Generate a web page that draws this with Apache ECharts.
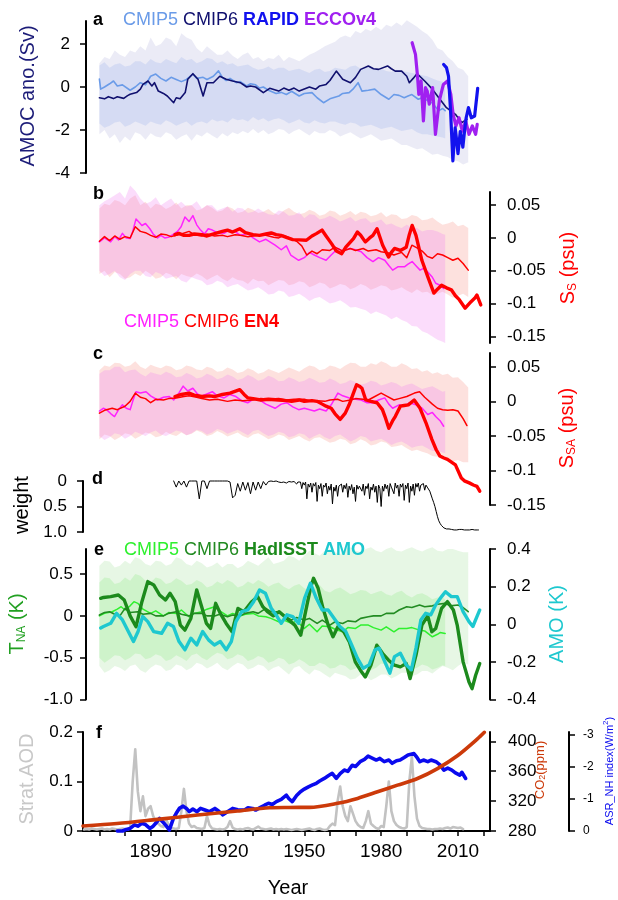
<!DOCTYPE html>
<html>
<head>
<meta charset="utf-8">
<script src="https://cdn.jsdelivr.net/npm/echarts@6/dist/echarts.min.js"></script>
<style>
  html, body { margin: 0; padding: 0; background: #fff; }
  #main { width: 618px; height: 900px; }
</style>
</head>
<body>
<div id="main"></div>
<script>
var FONT = '"Liberation Sans", Arial, Helvetica, sans-serif';

// ---------- panel a : AMOC anomaly (Sv) ----------
// bands: [year, low, high]
var bandAmocCmip6 = [[1870,-2.2,1.1],[1872,-2.0,1.4],[1874,-2.4,1.3],[1876,-2.2,1.7],[1878,-2.6,1.5],[1880,-2.3,1.4],[1882,-2.5,1.7],[1884,-2.1,1.6],[1886,-2.2,1.9],[1888,-2.45,1.7],[1890,-2.15,2.3],[1892,-2.3,1.9],[1894,-2.35,2.0],[1896,-2.1,2.3],[1898,-2.2,2.2],[1900,-2.45,1.9],[1902,-2.3,2.5],[1904,-2.2,2.3],[1906,-2.5,2.2],[1908,-2.2,1.8],[1910,-2.3,1.6],[1912,-2.1,1.9],[1914,-2.25,1.7],[1916,-2.4,1.5],[1918,-2.15,1.5],[1920,-2.3,1.7],[1922,-2.1,1.45],[1924,-2.2,1.3],[1926,-2.05,1.5],[1928,-2.15,1.6],[1930,-1.95,1.3],[1932,-2.15,1.4],[1934,-2.0,1.2],[1936,-2.2,1.35],[1938,-2.1,1.3],[1940,-1.95,1.5],[1942,-2.0,1.2],[1944,-2.2,1.4],[1946,-2.05,1.3],[1948,-1.95,1.2],[1950,-2.1,1.35],[1952,-2.25,1.5],[1954,-2.05,1.6],[1956,-2.15,1.75],[1958,-2.15,1.9],[1960,-2.0,2.0],[1962,-2.1,2.1],[1964,-2.3,2.3],[1966,-2.2,2.4],[1968,-2.1,2.3],[1970,-2.25,2.6],[1972,-2.4,2.5],[1974,-2.3,2.7],[1976,-2.2,2.6],[1978,-2.35,2.8],[1980,-2.5,2.65],[1982,-2.45,2.9],[1984,-2.4,2.8],[1986,-2.55,3.0],[1988,-2.7,2.85],[1990,-2.7,3.1],[1992,-2.8,2.95],[1994,-2.9,2.8],[1996,-2.85,2.6],[1998,-3.0,2.45],[2000,-3.15,2.2],[2002,-3.1,1.8],[2004,-3.2,1.7],[2006,-3.25,1.4],[2008,-3.4,1.2],[2010,-3.45,0.9],[2012,-3.6,0.8],[2014,-3.5,0.5]];
var bandAmocCmip5 = [[1870,-1.7,1.0],[1872,-1.9,1.15],[1874,-1.8,0.9],[1876,-1.65,1.05],[1878,-1.6,1.1],[1880,-1.85,0.95],[1882,-1.75,1.0],[1884,-1.6,1.2],[1886,-1.7,1.2],[1888,-1.8,1.05],[1890,-1.6,1.3],[1892,-1.7,1.15],[1894,-1.75,1.1],[1896,-1.55,1.3],[1898,-1.65,1.2],[1900,-1.8,1.1],[1902,-1.7,1.4],[1904,-1.6,1.25],[1906,-1.8,1.3],[1908,-1.65,1.1],[1910,-1.6,1.2],[1912,-1.7,1.35],[1914,-1.5,1.3],[1916,-1.6,1.1],[1918,-1.55,1.2],[1920,-1.65,1.05],[1922,-1.45,1.1],[1924,-1.55,0.95],[1926,-1.5,1.0],[1928,-1.6,1.05],[1930,-1.4,0.9],[1932,-1.55,0.8],[1934,-1.45,0.85],[1936,-1.6,0.95],[1938,-1.5,0.8],[1940,-1.45,0.9],[1942,-1.55,0.9],[1944,-1.7,0.75],[1946,-1.6,0.8],[1948,-1.5,0.85],[1950,-1.65,0.75],[1952,-1.7,0.65],[1954,-1.55,0.8],[1956,-1.65,0.85],[1958,-1.7,0.7],[1960,-1.6,0.75],[1962,-1.6,0.9],[1964,-1.7,0.85],[1966,-1.75,0.8],[1968,-1.65,0.95],[1970,-1.7,1.0],[1972,-1.85,0.85],[1974,-1.8,0.9],[1976,-1.75,0.95],[1978,-1.85,0.8],[1980,-1.95,0.85],[1982,-1.9,0.75],[1984,-1.85,0.7],[1986,-1.95,0.8],[1988,-2.05,0.75],[1990,-2.0,0.7],[1992,-1.95,0.65],[1994,-2.1,0.6],[1996,-2.2,0.55],[1998,-2.2,0.5],[2000,-2.25,0.4],[2002,-2.3,0.3],[2004,-2.35,0.25],[2005,-2.4,0.2]];
var amocCmip5 = [[1870,0.37],[1870.5,-0.1],[1872,0.0],[1874,0.15],[1875.5,0.28],[1877,0.05],[1879,0.1],[1882,-0.15],[1884,0.0],[1886,0.2],[1888,0.1],[1890,0.5],[1892,0.6],[1894,0.4],[1896,0.28],[1898,0.45],[1900,0.35],[1902,0.25],[1904,0.35],[1906.5,0.6],[1908,0.4],[1910.5,0.45],[1912,0.35],[1914.5,0.5],[1916.5,0.75],[1918,0.45],[1919.5,0.3],[1921,0.4],[1923.5,0.2],[1925,0.25],[1927.5,0.05],[1929,0.15],[1931,0.1],[1932.5,-0.05],[1934,0.0],[1936,-0.15],[1939,-0.3],[1941,-0.25],[1943,-0.35],[1945,-0.2],[1948,-0.42],[1950,-0.3],[1953,-0.26],[1955,-0.5],[1957.5,-0.73],[1960,-0.55],[1963.5,-0.42],[1965,-0.3],[1967.5,-0.26],[1969,-0.1],[1971,0.2],[1972.5,-0.19],[1975,-0.15],[1977.5,-0.1],[1980,-0.35],[1983,-0.57],[1985,-0.35],[1987,-0.39],[1989,-0.5],[1990.5,-0.42],[1992,-0.35],[1994.5,-0.57],[1996,-0.5],[1998.5,-0.65],[2000,-0.75],[2002.5,-1.1],[2004,-1.0],[2005,-1.1]];
var amocCmip6 = [[1870,-0.5],[1872,-0.55],[1873.5,-0.45],[1875.5,-0.54],[1877,-0.45],[1879.5,-0.53],[1881,-0.4],[1882,-0.34],[1884.5,-0.26],[1886,-0.1],[1887,0.12],[1889,0.28],[1890.5,0.05],[1891.5,0.2],[1893,-0.19],[1895,-0.3],[1896.5,-0.42],[1899,-0.73],[1900,-0.5],[1901.5,-0.55],[1903.5,-0.26],[1904.5,0.36],[1906.5,0.62],[1908.5,0.36],[1910.5,-0.42],[1912,0.2],[1914.5,0.2],[1917,0.5],[1919.5,0.36],[1922,0.28],[1925,0.2],[1927.5,0.0],[1929,0.05],[1931,0.0],[1934,-0.26],[1936.5,-0.06],[1940,-0.19],[1942,-0.05],[1944,-0.15],[1946,-0.05],[1948,-0.19],[1952,0.0],[1954.5,-0.1],[1956,0.05],[1958.5,0.12],[1960,0.3],[1962.5,0.74],[1965,0.36],[1968,0.2],[1970,0.45],[1972,0.82],[1975,0.98],[1977,0.85],[1979,0.82],[1982.5,0.98],[1984,0.85],[1985.5,0.74],[1988,0.74],[1990,0.5],[1991,0.2],[1992.5,0.4],[1994,0.62],[1997,0.28],[2000,-0.1],[2002.5,-0.5],[2005.5,-0.96],[2009,-1.27],[2011.5,-1.66],[2013.5,-1.5]];
var amocRapid = [[2004.4,1.05],[2005.5,0.9],[2006.3,0.5],[2007.1,-1.1],[2008,-3.44],[2008.9,-1.9],[2009.5,-2.5],[2010,-3.1],[2010.9,-2.07],[2011.9,-2.8],[2012.6,-2.0],[2013.2,-1.43],[2014.1,-0.96],[2015.2,-1.43],[2016.5,-1.35],[2017.7,-0.06]];
var amocEcco = [[1992.1,2.06],[1993.4,1.52],[1994.2,0.5],[1994.7,-0.34],[1995.6,0.28],[1996.5,-1.58],[1997.3,-0.03],[1998,-0.2],[1998.8,-0.8],[2000.1,-0.03],[2001.2,-2.2],[2002.7,-0.65],[2004.3,0.12],[2005.9,0.28],[2007.2,-0.34],[2008.1,-1.27],[2009.2,-1.81],[2010.4,-1.43],[2011.7,-2.05],[2013,-1.58],[2014.3,-2.2],[2015.6,-1.81],[2016.9,-2.2],[2017.5,-1.74]];

// ---------- panel b : S_S (psu) ----------
var bandSsCmip6 = [[1870,-0.055,0.045],[1872,-0.05,0.052],[1874,-0.06,0.05],[1876,-0.052,0.058],[1878,-0.055,0.055],[1880,-0.062,0.05],[1882,-0.06,0.06],[1884,-0.054,0.065],[1886,-0.058,0.05],[1888,-0.05,0.055],[1890,-0.055,0.045],[1892,-0.062,0.052],[1894,-0.06,0.05],[1896,-0.053,0.044],[1898,-0.056,0.048],[1900,-0.063,0.054],[1902,-0.055,0.045],[1904,-0.058,0.05],[1906,-0.06,0.05],[1908,-0.054,0.042],[1910,-0.058,0.044],[1912,-0.064,0.05],[1914,-0.06,0.046],[1916,-0.056,0.04],[1918,-0.062,0.042],[1920,-0.066,0.048],[1922,-0.06,0.045],[1924,-0.064,0.038],[1926,-0.065,0.04],[1928,-0.07,0.046],[1930,-0.062,0.043],[1932,-0.066,0.038],[1934,-0.065,0.04],[1936,-0.072,0.044],[1938,-0.068,0.038],[1940,-0.064,0.035],[1942,-0.065,0.042],[1944,-0.072,0.046],[1946,-0.07,0.04],[1948,-0.066,0.036],[1950,-0.068,0.038],[1952,-0.075,0.043],[1954,-0.072,0.04],[1956,-0.068,0.034],[1958,-0.07,0.036],[1960,-0.077,0.042],[1962,-0.074,0.04],[1964,-0.07,0.034],[1966,-0.072,0.037],[1968,-0.078,0.041],[1970,-0.075,0.035],[1972,-0.07,0.04],[1974,-0.073,0.038],[1976,-0.079,0.033],[1978,-0.076,0.035],[1980,-0.072,0.039],[1982,-0.074,0.032],[1984,-0.08,0.036],[1986,-0.078,0.035],[1988,-0.075,0.029],[1990,-0.08,0.03],[1992,-0.084,0.035],[1994,-0.078,0.033],[1996,-0.083,0.027],[1998,-0.082,0.028],[2000,-0.087,0.031],[2002,-0.085,0.025],[2004,-0.082,0.02],[2006,-0.086,0.022],[2008,-0.091,0.025],[2010,-0.088,0.018],[2012,-0.085,0.02],[2014,-0.09,0.015]];
var bandSsCmip5 = [[1870,-0.05,0.05],[1872,-0.058,0.056],[1874,-0.055,0.06],[1876,-0.05,0.065],[1878,-0.06,0.07],[1880,-0.064,0.06],[1882,-0.055,0.08],[1884,-0.05,0.072],[1886,-0.05,0.06],[1888,-0.058,0.052],[1890,-0.06,0.055],[1892,-0.052,0.062],[1894,-0.055,0.05],[1896,-0.062,0.055],[1898,-0.06,0.06],[1900,-0.058,0.05],[1902,-0.065,0.055],[1904,-0.068,0.048],[1906,-0.06,0.05],[1908,-0.063,0.056],[1910,-0.065,0.045],[1912,-0.072,0.05],[1914,-0.07,0.05],[1916,-0.065,0.042],[1918,-0.068,0.045],[1920,-0.075,0.048],[1922,-0.072,0.04],[1924,-0.07,0.046],[1926,-0.075,0.045],[1928,-0.08,0.038],[1930,-0.078,0.04],[1932,-0.075,0.045],[1934,-0.08,0.04],[1936,-0.086,0.036],[1938,-0.085,0.035],[1940,-0.08,0.042],[1942,-0.082,0.04],[1944,-0.09,0.034],[1946,-0.088,0.035],[1948,-0.085,0.039],[1950,-0.09,0.03],[1952,-0.096,0.036],[1954,-0.092,0.035],[1956,-0.09,0.028],[1958,-0.095,0.03],[1960,-0.1,0.034],[1962,-0.098,0.03],[1964,-0.095,0.025],[1966,-0.1,0.028],[1968,-0.106,0.032],[1970,-0.105,0.025],[1972,-0.108,0.029],[1974,-0.11,0.03],[1976,-0.116,0.023],[1978,-0.112,0.025],[1980,-0.115,0.028],[1982,-0.118,0.02],[1984,-0.124,0.022],[1986,-0.12,0.018],[1988,-0.125,0.015],[1990,-0.128,0.02],[1992,-0.134,0.016],[1994,-0.135,0.015],[1996,-0.142,0.01],[1998,-0.145,0.012],[2000,-0.15,0.012],[2002,-0.155,0.01],[2004,-0.158,0.006],[2005,-0.16,0.005]];
var ssCmip5 = [[1870,-0.006],[1872,0.0],[1874.4,-0.006],[1876,0.002],[1877.5,-0.003],[1879,0.007],[1880.5,0.0],[1882,-0.001],[1883,0.01],[1884.3,0.029],[1885.5,0.024],[1886.6,0.019],[1888,0.022],[1889.7,0.014],[1891,0.006],[1892.7,0.0],[1894,0.004],[1895.5,0.0],[1897.3,0.0015],[1899,0.006],[1900.5,0.01],[1901.9,0.017],[1903.4,0.032],[1905,0.025],[1906.5,0.034],[1908,0.02],[1909.5,0.012],[1911,0.006],[1912.5,0.014],[1914.1,0.012],[1916,0.008],[1918.7,0.007],[1920.5,0.012],[1923.3,0.009],[1925,0.004],[1927.9,0.007],[1930,0.0],[1932.5,-0.006],[1935,-0.002],[1938.6,-0.011],[1941,-0.018],[1943,-0.012],[1944.7,-0.026],[1947.8,-0.034],[1950,-0.03],[1952,-0.022],[1953.9,-0.026],[1956,-0.03],[1958.5,-0.034],[1960.5,-0.026],[1963.1,-0.016],[1965,-0.02],[1967.6,-0.016],[1970,-0.018],[1972.2,-0.021],[1974.5,-0.03],[1976.8,-0.036],[1979,-0.03],[1981.4,-0.034],[1983,-0.042],[1984.5,-0.049],[1986.5,-0.044],[1989.1,-0.044],[1990.5,-0.04],[1992.1,-0.036],[1993.5,-0.042],[1995.2,-0.049],[1996.7,-0.046],[1998.2,-0.052],[2000,-0.06],[2001.3,-0.069],[2003,-0.072],[2004.4,-0.077]];
var ssCmip6 = [[1870,-0.005],[1872,0.002],[1874,-0.004],[1876,0.003],[1878,-0.002],[1880,0.002],[1882,0.0],[1884,0.017],[1886,0.01],[1888,0.008],[1890,0.004],[1892,0.001],[1894,0.006],[1896,0.005],[1898,0.002],[1900,0.004],[1902,0.006],[1905,0.01],[1907,0.005],[1910,0.003],[1912,0.006],[1915,0.003],[1918,0.004],[1920,0.002],[1923,0.005],[1925,0.004],[1928,0.002],[1930,0.003],[1933,0.005],[1935,0.004],[1938,0.001],[1940,0.0],[1942,0.004],[1945,-0.001],[1947,-0.005],[1949,-0.012],[1951,-0.026],[1953,-0.02],[1955,-0.024],[1957,-0.018],[1960,-0.019],[1962,-0.014],[1965,-0.02],[1968,-0.016],[1970,-0.019],[1973,-0.016],[1975,-0.02],[1978,-0.018],[1980,-0.021],[1983,-0.023],[1985,-0.026],[1988,-0.022],[1990,-0.03],[1992,-0.011],[1994,-0.015],[1996,-0.02],[1998,-0.028],[2000,-0.031],[2002,-0.024],[2004,-0.026],[2006,-0.03],[2008,-0.034],[2010,-0.031],[2012,-0.039],[2014,-0.049]];
var ssEn4 = [[1899.5,0.005],[1901,0.007],[1903,0.004],[1905,0.004],[1907,0.006],[1910,0.005],[1912,0.003],[1915,0.0066],[1918,0.01],[1920,0.012],[1922,0.009],[1924.8,0.014],[1927,0.008],[1930,0.005],[1932.5,0.004],[1935,0.006],[1937.1,0.0076],[1939,0.005],[1940.9,0.004],[1943,0.001],[1945.5,-0.0025],[1948,-0.003],[1950.8,-0.0035],[1953,0.003],[1954.7,0.0066],[1956.9,0.012],[1958.5,0.003],[1960.7,-0.009],[1962.5,-0.02],[1964.6,-0.024],[1966.2,-0.014],[1969.2,-0.001],[1970.7,0.009],[1972,0.004],[1973.8,-0.006],[1975.5,0.0],[1976.8,0.004],[1978.4,0.014],[1980.6,-0.011],[1982.9,-0.029],[1984,-0.022],[1985.2,-0.016],[1987.5,-0.019],[1989.8,-0.014],[1991,0.005],[1992.1,0.019],[1993.6,0.004],[1995.9,-0.034],[1998.2,-0.059],[2000.6,-0.084],[2002,-0.078],[2003.6,-0.072],[2005.5,-0.076],[2007.4,-0.079],[2009,-0.088],[2010.5,-0.094],[2012.8,-0.107],[2015.1,-0.097],[2016.5,-0.092],[2017.4,-0.087],[2018.9,-0.102]];

// ---------- panel c : S_SA (psu) ----------
var bandSsaCmip6 = [[1870,-0.055,0.045],[1872,-0.048,0.052],[1874,-0.05,0.05],[1876,-0.056,0.056],[1878,-0.052,0.055],[1880,-0.046,0.05],[1882,-0.048,0.052],[1884,-0.054,0.058],[1886,-0.05,0.05],[1888,-0.045,0.047],[1890,-0.047,0.053],[1892,-0.052,0.05],[1894,-0.05,0.048],[1896,-0.044,0.052],[1898,-0.048,0.05],[1900,-0.05,0.045],[1902,-0.045,0.047],[1904,-0.049,0.052],[1906,-0.047,0.05],[1908,-0.042,0.046],[1910,-0.045,0.045],[1912,-0.05,0.05],[1914,-0.048,0.048],[1916,-0.043,0.043],[1918,-0.046,0.044],[1920,-0.051,0.049],[1922,-0.048,0.046],[1924,-0.045,0.041],[1926,-0.05,0.043],[1928,-0.053,0.048],[1930,-0.048,0.045],[1932,-0.046,0.04],[1934,-0.05,0.042],[1936,-0.055,0.047],[1938,-0.052,0.044],[1940,-0.048,0.041],[1942,-0.05,0.045],[1944,-0.056,0.049],[1946,-0.053,0.046],[1948,-0.05,0.043],[1950,-0.055,0.048],[1952,-0.058,0.052],[1954,-0.053,0.05],[1956,-0.052,0.045],[1958,-0.056,0.047],[1960,-0.06,0.052],[1962,-0.058,0.05],[1964,-0.054,0.047],[1966,-0.056,0.052],[1968,-0.062,0.056],[1970,-0.06,0.055],[1972,-0.055,0.05],[1974,-0.058,0.05],[1976,-0.064,0.055],[1978,-0.062,0.053],[1980,-0.058,0.058],[1982,-0.06,0.055],[1984,-0.066,0.05],[1986,-0.065,0.05],[1988,-0.063,0.055],[1990,-0.068,0.052],[1992,-0.072,0.047],[1994,-0.07,0.048],[1996,-0.073,0.043],[1998,-0.075,0.045],[2000,-0.079,0.04],[2002,-0.08,0.042],[2004,-0.082,0.038],[2006,-0.083,0.04],[2008,-0.087,0.034],[2010,-0.085,0.035],[2012,-0.088,0.028],[2014,-0.088,0.02]];
var bandSsaCmip5 = [[1870,-0.05,0.04],[1872,-0.056,0.045],[1874,-0.052,0.045],[1876,-0.046,0.05],[1878,-0.048,0.05],[1880,-0.054,0.042],[1882,-0.05,0.045],[1884,-0.044,0.046],[1886,-0.047,0.04],[1888,-0.05,0.036],[1890,-0.045,0.042],[1892,-0.042,0.04],[1894,-0.048,0.038],[1896,-0.05,0.043],[1898,-0.046,0.04],[1900,-0.042,0.035],[1902,-0.044,0.036],[1904,-0.049,0.041],[1906,-0.046,0.038],[1908,-0.041,0.033],[1910,-0.043,0.035],[1912,-0.048,0.04],[1914,-0.045,0.037],[1916,-0.04,0.032],[1918,-0.042,0.034],[1920,-0.047,0.039],[1922,-0.044,0.036],[1924,-0.041,0.031],[1926,-0.045,0.033],[1928,-0.049,0.038],[1930,-0.043,0.035],[1932,-0.041,0.03],[1934,-0.046,0.032],[1936,-0.05,0.037],[1938,-0.048,0.034],[1940,-0.044,0.029],[1942,-0.046,0.03],[1944,-0.052,0.035],[1946,-0.05,0.032],[1948,-0.046,0.028],[1950,-0.048,0.03],[1952,-0.054,0.034],[1954,-0.05,0.031],[1956,-0.047,0.027],[1958,-0.052,0.028],[1960,-0.055,0.033],[1962,-0.05,0.03],[1964,-0.048,0.025],[1966,-0.053,0.027],[1968,-0.058,0.031],[1970,-0.055,0.028],[1972,-0.05,0.024],[1974,-0.052,0.026],[1976,-0.058,0.03],[1978,-0.056,0.028],[1980,-0.054,0.023],[1982,-0.058,0.025],[1984,-0.063,0.028],[1986,-0.06,0.026],[1988,-0.058,0.021],[1990,-0.062,0.024],[1992,-0.067,0.026],[1994,-0.065,0.022],[1996,-0.064,0.018],[1998,-0.068,0.02],[2000,-0.072,0.022],[2002,-0.072,0.018],[2004,-0.074,0.014],[2005,-0.075,0.015]];
var ssaCmip5 = [[1870,-0.014],[1871.5,-0.01],[1872.8,-0.012],[1874.5,-0.018],[1875.9,-0.022],[1877.5,-0.012],[1879,-0.005],[1880.5,-0.01],[1882,-0.012],[1883,0.0],[1884.3,0.014],[1886,0.012],[1888.2,0.014],[1890,0.008],[1892.7,0.002],[1895,0.006],[1897.3,0.007],[1899,0.002],[1901,0.012],[1902.7,0.022],[1904.5,0.015],[1906.5,0.019],[1908,0.012],[1909.5,0.007],[1911.5,0.01],[1914.1,0.014],[1916,0.008],[1918.7,0.005],[1921,0.01],[1923.3,0.007],[1925.5,0.001],[1927.9,-0.002],[1930,0.003],[1932.5,0.002],[1935,-0.004],[1938.6,-0.01],[1941,-0.004],[1943.2,-0.002],[1945.5,-0.008],[1947.8,-0.012],[1950,-0.01],[1953.9,-0.014],[1956,-0.011],[1958.5,-0.014],[1960.5,-0.005],[1963.1,0.012],[1965,0.008],[1967.6,0.005],[1970,0.003],[1972.2,0.002],[1974.5,-0.002],[1976.8,-0.002],[1979,0.002],[1981.4,0.005],[1983,-0.004],[1984.5,-0.01],[1987,-0.005],[1989.1,-0.007],[1991,-0.002],[1993.6,-0.005],[1996,-0.01],[1998.2,-0.019],[2000,-0.016],[2001.3,-0.022],[2003,-0.028],[2004.4,-0.036]];
var ssaCmip6 = [[1870,-0.017],[1872,-0.013],[1875,-0.01],[1877,-0.012],[1880,-0.007],[1882,0.0],[1884,0.012],[1886,0.006],[1888,0.004],[1890,-0.002],[1892,0.003],[1895,0.002],[1897,0.004],[1900,0.005],[1903,0.007],[1905,0.008],[1908,0.006],[1910,0.004],[1913,0.002],[1916,0.003],[1920,0.0],[1923,0.002],[1926,0.001],[1930,0.002],[1933,0.004],[1936,0.003],[1940,0.004],[1943,0.002],[1946,0.003],[1950,0.003],[1953,0.0],[1955,0.001],[1958,0.0],[1960,0.002],[1963,0.003],[1965,0.0],[1968,0.002],[1970,0.004],[1973,0.003],[1975,0.002],[1977,0.006],[1980,0.012],[1982,0.008],[1985,0.002],[1987,0.004],[1990,0.007],[1993,0.012],[1995,0.014],[1997,0.006],[2000,-0.004],[2002,-0.01],[2004,-0.012],[2006,-0.013],[2008,-0.012],[2010,-0.014],[2012,-0.025],[2013.5,-0.035]];
var ssaEn4 = [[1899.5,0.007],[1902,0.01],[1905,0.012],[1907,0.009],[1910,0.007],[1913,0.008],[1915,0.007],[1918,0.01],[1921,0.012],[1924.8,0.017],[1926.5,0.01],[1928,0.005],[1930,0.004],[1933,0.002],[1936,0.003],[1940,0.002],[1943,0.001],[1945,0.0],[1948,0.002],[1950,0.0],[1953,0.001],[1955,0.0],[1957,-0.004],[1958.5,-0.007],[1960.5,-0.01],[1962,-0.018],[1964,-0.026],[1966,-0.017],[1967.5,-0.005],[1969,0.01],[1970.4,0.024],[1971.5,0.022],[1972.5,0.019],[1974,0.002],[1976,0.0],[1978.4,-0.002],[1980.5,-0.012],[1981.5,-0.022],[1983,-0.039],[1984.5,-0.028],[1985.5,-0.022],[1987.5,-0.007],[1989,-0.006],[1990.6,-0.005],[1992.9,0.002],[1995.2,-0.01],[1996.5,-0.022],[1997.5,-0.031],[1999.8,-0.055],[2001.5,-0.07],[2002.9,-0.079],[2004.5,-0.082],[2005.9,-0.084],[2009,-0.092],[2011.3,-0.111],[2012.5,-0.115],[2014.4,-0.118],[2016,-0.121],[2017.4,-0.123],[2018.5,-0.13]];

// ---------- panel d : weight ----------
var weightEarlyStart = 1899;   // yearly values 1899-1939
var weightEarly = [0,0.12,0,0.08,0,0.12,0,0,0,0,0.35,0,0,0.15,0,0,0,0,0,0,0,0,0.02,0.33,0.28,0.05,0.2,0.02,0.18,0.03,0.25,0.02,0.18,0.02,0.15,0.01,0.08,0.01,0,0.01,0];
var weightLateStart = 1939.5;  // half-year values 1939.5-2018
var weightLate = [0.01,0.02,0.0,0.03,0.01,0.02,0.0,0.04,0.02,0.01,0.03,0.02,0.05,0.01,0.03,0.06,0.02,
  0.05,0.02,0.15,0.03,0.08,0.02,0.35,0.06,0.12,0.04,0.22,0.05,0.1,0.03,0.4,0.08,
  0.15,0.05,0.3,0.08,0.12,0.04,0.25,0.1,0.18,0.06,0.45,0.12,0.2,0.08,0.3,0.1,
  0.12,0.06,0.22,0.08,0.15,0.05,0.32,0.1,0.18,0.07,0.25,0.12,0.4,0.08,0.16,0.1,
  0.08,0.2,0.06,0.28,0.1,0.15,0.05,0.35,0.12,0.18,0.06,0.22,0.1,0.42,0.08,0.15,
  0.5,0.1,0.2,0.06,0.15,0.08,0.3,0.05,0.12,0.1,0.25,0.04,0.14,0.08,0.3,0.06,
  0.12,0.05,0.38,0.08,0.15,0.04,0.42,0.1,0.2,0.06,0.28,0.05,0.12,0.04,0.2,0.08,
  0.1,0.05,0.18,0.08,0.12,0.1,0.2,0.18,
  0.35,0.42,0.5,0.6,0.7,0.78,0.83,0.87,0.9,0.92,0.93,0.94,0.95,0.94,0.95,0.95,
  0.95,0.96,0.95,0.96,0.95,0.95,0.96,0.95,0.96,0.96,0.95,0.96,0.95,0.96,0.96,0.95,0.96,0.96,0.95,0.96,0.96];

// ---------- panel e : T_NA (K) and AMO (K) ----------
var bandTnaCmip6 = [[1870,-0.6,0.6],[1872,-0.68,0.66],[1874,-0.65,0.65],[1876,-0.6,0.58],[1878,-0.62,0.6],[1880,-0.66,0.66],[1882,-0.6,0.62],[1884,-0.58,0.7],[1886,-0.65,0.68],[1888,-0.68,0.62],[1890,-0.62,0.6],[1892,-0.58,0.66],[1894,-0.6,0.65],[1896,-0.66,0.6],[1898,-0.64,0.62],[1900,-0.58,0.7],[1902,-0.6,0.68],[1904,-0.65,0.62],[1906,-0.62,0.6],[1908,-0.56,0.66],[1910,-0.58,0.63],[1912,-0.63,0.58],[1914,-0.6,0.6],[1916,-0.56,0.64],[1918,-0.62,0.58],[1920,-0.65,0.62],[1922,-0.6,0.62],[1924,-0.56,0.57],[1926,-0.58,0.6],[1928,-0.64,0.66],[1930,-0.62,0.63],[1932,-0.58,0.6],[1934,-0.6,0.65],[1936,-0.66,0.7],[1938,-0.62,0.62],[1940,-0.6,0.64],[1942,-0.65,0.66],[1944,-0.7,0.72],[1946,-0.62,0.7],[1948,-0.6,0.66],[1950,-0.66,0.72],[1952,-0.7,0.78],[1954,-0.64,0.75],[1956,-0.66,0.72],[1958,-0.7,0.78],[1960,-0.74,0.8],[1962,-0.68,0.76],[1964,-0.7,0.74],[1966,-0.72,0.8],[1968,-0.76,0.82],[1970,-0.75,0.78],[1972,-0.7,0.76],[1974,-0.72,0.8],[1976,-0.77,0.82],[1978,-0.74,0.78],[1980,-0.7,0.76],[1982,-0.7,0.8],[1984,-0.75,0.82],[1986,-0.72,0.78],[1988,-0.68,0.77],[1990,-0.68,0.8],[1992,-0.72,0.82],[1994,-0.7,0.79],[1996,-0.66,0.77],[1998,-0.66,0.8],[2000,-0.69,0.82],[2002,-0.64,0.78],[2004,-0.6,0.77],[2006,-0.62,0.8],[2008,-0.65,0.8],[2010,-0.6,0.78],[2012,-0.56,0.76],[2014,-0.58,0.76]];
var bandTnaCmip5 = [[1870,-0.5,0.4],[1872,-0.56,0.46],[1874,-0.52,0.45],[1876,-0.47,0.38],[1878,-0.48,0.4],[1880,-0.53,0.46],[1882,-0.5,0.42],[1884,-0.45,0.5],[1886,-0.46,0.48],[1888,-0.52,0.42],[1890,-0.5,0.4],[1892,-0.46,0.46],[1894,-0.48,0.44],[1896,-0.54,0.38],[1898,-0.52,0.4],[1900,-0.47,0.45],[1902,-0.5,0.42],[1904,-0.54,0.37],[1906,-0.47,0.38],[1908,-0.45,0.43],[1910,-0.5,0.4],[1912,-0.53,0.34],[1914,-0.48,0.36],[1916,-0.44,0.41],[1918,-0.46,0.38],[1920,-0.52,0.43],[1922,-0.5,0.4],[1924,-0.46,0.34],[1926,-0.48,0.36],[1928,-0.54,0.41],[1930,-0.52,0.38],[1932,-0.48,0.43],[1934,-0.5,0.4],[1936,-0.56,0.35],[1938,-0.54,0.38],[1940,-0.5,0.4],[1942,-0.52,0.35],[1944,-0.58,0.32],[1946,-0.56,0.36],[1948,-0.52,0.38],[1950,-0.55,0.33],[1952,-0.6,0.3],[1954,-0.6,0.35],[1956,-0.56,0.37],[1958,-0.58,0.3],[1960,-0.63,0.28],[1962,-0.62,0.32],[1964,-0.58,0.34],[1966,-0.6,0.3],[1968,-0.65,0.26],[1970,-0.63,0.28],[1972,-0.58,0.31],[1974,-0.6,0.3],[1976,-0.65,0.26],[1978,-0.62,0.28],[1980,-0.57,0.3],[1982,-0.58,0.26],[1984,-0.63,0.24],[1986,-0.6,0.28],[1988,-0.57,0.3],[1990,-0.6,0.25],[1992,-0.64,0.22],[1994,-0.62,0.26],[1996,-0.58,0.27],[1998,-0.6,0.24],[2000,-0.64,0.2],[2002,-0.62,0.22],[2004,-0.59,0.22],[2005,-0.6,0.2]];
var tnaCmip5 = [[1870,0.0],[1872,0.03],[1875,0.05],[1877,0.08],[1878.5,0.11],[1880,0.07],[1882,0.12],[1883.5,0.17],[1885,0.15],[1887,0.08],[1890,0.03],[1892,0.06],[1895,0.0],[1897,0.04],[1900,0.03],[1902,0.07],[1905,-0.01],[1907,0.03],[1910,0.05],[1912,0.08],[1915,0.11],[1917,0.06],[1920,0.0],[1922,0.03],[1925,0.0],[1927,0.02],[1930,0.03],[1932,0.0],[1935,-0.01],[1937,-0.03],[1940,-0.07],[1942,-0.05],[1945,-0.09],[1947,-0.06],[1950,-0.15],[1952,-0.1],[1955,-0.19],[1957,-0.12],[1960,-0.13],[1962,-0.16],[1965,-0.19],[1967,-0.14],[1970,-0.15],[1972,-0.11],[1975,-0.11],[1977,-0.14],[1980,-0.17],[1982,-0.13],[1985,-0.19],[1987,-0.15],[1990,-0.15],[1992,-0.14],[1995,-0.17],[1997,-0.18],[2000,-0.25],[2002,-0.22],[2003,-0.2],[2005,-0.21]];
var tnaCmip6 = [[1870,0.01],[1872,0.04],[1874,0.05],[1876,0.02],[1878,0.0],[1880,0.09],[1882,0.04],[1885,0.05],[1887,0.02],[1890,0.03],[1892,0.0],[1895,0.0],[1897,0.03],[1900,0.05],[1902,0.02],[1905,0.0],[1907,0.03],[1910,0.03],[1912,0.0],[1915,0.0],[1917,0.02],[1920,-0.01],[1922,0.01],[1925,0.0],[1927,0.03],[1930,0.05],[1932,0.03],[1935,0.09],[1937,0.05],[1940,0.05],[1942,0.0],[1945,-0.05],[1947,-0.02],[1950,-0.05],[1952,-0.03],[1955,-0.09],[1957,-0.05],[1960,-0.11],[1962,-0.07],[1965,-0.09],[1967,-0.06],[1970,-0.07],[1972,-0.03],[1975,-0.01],[1977,0.0],[1980,0.0],[1982,0.03],[1985,0.03],[1987,0.07],[1990,0.11],[1992,0.1],[1995,0.13],[1997,0.11],[2000,0.12],[2002,0.14],[2005,0.15],[2007,0.12],[2010,0.13],[2012,0.1],[2014,0.05]];
var tnaHadisst = [[1870.5,0.21],[1871.6,0.22],[1874.4,0.23],[1877.4,0.25],[1879.7,0.19],[1882,0],[1884.3,-0.13],[1886.6,0.17],[1888.9,0.41],[1891.2,0.37],[1893.5,0.25],[1895.8,0.19],[1897.6,0.27],[1899.6,0.17],[1901.6,-0.11],[1903.4,-0.17],[1905.7,-0.03],[1908,0.31],[1910.3,0.07],[1911.8,-0.09],[1913.4,-0.15],[1915.4,0.15],[1917.2,0.03],[1919.5,-0.09],[1921.8,-0.19],[1924.1,0.09],[1926.4,0.05],[1929.5,0.17],[1931.8,0.23],[1933.8,0.11],[1935.6,0.05],[1937.9,0],[1940.2,0.05],[1943.2,-0.03],[1946.3,-0.11],[1948.6,-0.23],[1950.5,0.05],[1952.4,0.33],[1953.6,0.45],[1955.4,0.33],[1957.3,0.09],[1959.3,-0.11],[1961.2,-0.25],[1963.1,-0.13],[1965.4,-0.19],[1967.6,-0.31],[1969.9,-0.55],[1971.9,-0.65],[1973.8,-0.73],[1976,-0.59],[1978.3,-0.35],[1980.6,-0.45],[1982.9,-0.53],[1985.2,-0.59],[1987.5,-0.61],[1989.8,-0.57],[1991.3,-0.75],[1993.6,-0.47],[1995.9,-0.11],[1998.2,0],[1999.8,-0.19],[2001.3,-0.15],[2003.6,0.09],[2005.9,0.17],[2008.2,0.07],[2009.7,-0.11],[2012,-0.55],[2014.3,-0.79],[2015.5,-0.87],[2016.9,-0.71],[2018.5,-0.57]];
var amoIndex = [[1870.5,-0.02],[1871.6,-0.012],[1874.4,0.005],[1876.7,0.058],[1879,0.023],[1881.3,-0.039],[1883.3,-0.092],[1885.1,-0.039],[1886.9,0.041],[1888.9,0.014],[1891.2,-0.039],[1894.3,-0.048],[1896.6,0.005],[1898.9,-0.012],[1901.1,-0.092],[1903.4,-0.136],[1905.7,-0.074],[1908,-0.11],[1910.3,-0.039],[1912.6,-0.083],[1914.9,-0.11],[1917.2,-0.092],[1919.5,-0.136],[1921.5,-0.092],[1923.3,0.014],[1925.6,0.067],[1927.9,0.076],[1930.2,0.12],[1932.5,0.182],[1934.8,0.165],[1937.1,0.085],[1939.4,0.041],[1941,0.005],[1943.2,0.05],[1945.5,0.041],[1947.8,0.005],[1950.1,0.138],[1952.4,0.218],[1954.7,0.138],[1957,0.076],[1959.3,0.076],[1961.6,0.032],[1963.9,-0.012],[1966.2,-0.039],[1968.5,-0.11],[1970.7,-0.18],[1973,-0.234],[1975.3,-0.216],[1977.6,-0.136],[1979.2,-0.127],[1981.1,-0.189],[1983.4,-0.26],[1985.2,-0.172],[1987.5,-0.154],[1989.8,-0.216],[1991.8,-0.242],[1993.6,-0.127],[1995.5,0.023],[1997.4,0.058],[1999.4,0.05],[2001.3,0.103],[2003.6,0.147],[2005.1,0.173],[2007.4,0.147],[2009.7,0.147],[2012,0.067],[2014.3,0.014],[2015.8,-0.012],[2017.4,0.041],[2018.5,0.076]];

// ---------- panel f : Strat.AOD, CO2, ASR_NH index ----------
var aodStart = 1864;  // yearly values 1864-2012
var aod = [0.003,0.004,0.003,0.005,0.004,0.003,0.004,0.005,0.003,0.004,0.003,0.005,0.004,0.003,0.004,0.005,0.004,0.003,0.006,
  0.1,0.165,0.08,0.04,0.07,0.03,0.045,0.05,0.03,0.02,0.015,0.01,0.008,0.025,0.012,0.006,0.005,
  0.004,0.006,0.04,0.085,0.04,0.015,0.008,0.01,0.006,0.005,
  0.004,0.006,0.03,0.012,0.005,0.004,0.003,0.004,0.003,0.004,
  0.008,0.02,0.007,0.004,0.003,0.004,0.003,0.005,0.006,0.004,
  0.003,0.006,0.009,0.005,0.004,0.003,0.004,0.005,0.003,0.004,
  0.003,0.004,0.003,0.004,0.003,0.002,0.003,0.004,0.003,0.002,
  0.003,0.004,0.005,0.003,0.002,0.004,0.005,0.003,0.002,0.003,
  0.01,0.015,0.012,0.06,0.09,0.05,0.03,0.02,0.05,0.035,
  0.02,0.012,0.008,0.006,0.02,0.04,0.015,0.01,0.006,0.004,
  0.01,0.008,0.05,0.1,0.04,0.02,0.012,0.008,0.006,0.005,
  0.008,0.1,0.15,0.07,0.025,0.01,0.006,0.005,0.004,0.004,
  0.003,0.004,0.004,0.005,0.004,0.006,0.007,0.005,0.008,0.007,
  0.006,0.007,0.004];
var co2 = [[1863.6,286.7],[1876.9,290],[1892.7,295.6],[1908.3,301.3],[1923.9,306.7],[1936.4,311],[1944,311.5],[1952,311.6],[1963,317],[1970.8,323.6],[1978.6,332.4],[1986.4,341.3],[1994.2,350.2],[2002,363.5],[2009.9,381],[2017.7,403.5],[2020.3,412]];
var asrNH = [[1877,0.0],[1879,0.0],[1880.5,-0.05],[1882,-0.08],[1883.7,-0.19],[1885,-0.15],[1886.6,-0.24],[1888,-0.2],[1889.7,-0.08],[1891,-0.15],[1892,-0.24],[1893.5,-0.39],[1894.5,-0.3],[1895.8,-0.19],[1897.3,-0.03],[1898.9,-0.39],[1900,-0.55],[1901.2,-0.7],[1902.7,-0.77],[1904,-0.7],[1905.1,-0.6],[1906.5,-0.68],[1908.1,-0.6],[1909.5,-0.7],[1911.2,-0.65],[1913,-0.6],[1915.1,-0.7],[1916.5,-0.62],[1918.2,-0.5],[1920,-0.6],[1922,-0.7],[1924,-0.66],[1926.7,-0.65],[1928,-0.72],[1929.8,-0.7],[1931,-0.65],[1932.9,-0.73],[1934.5,-0.8],[1936,-0.86],[1937.5,-0.82],[1939.1,-0.91],[1941,-0.98],[1943,-1.11],[1944,-1.0],[1945.3,-0.91],[1947,-1.1],[1948.5,-1.22],[1950,-1.3],[1951.6,-1.37],[1953,-1.42],[1954.7,-1.48],[1956,-1.55],[1957.8,-1.63],[1959.5,-1.72],[1960.9,-1.79],[1962.5,-1.63],[1964,-1.78],[1965.6,-1.89],[1967,-1.85],[1968.7,-2.04],[1970,-2.0],[1971.8,-2.15],[1973.5,-2.22],[1974.9,-2.32],[1976.5,-2.26],[1978.1,-2.2],[1979.5,-2.25],[1981.2,-2.15],[1983,-2.2],[1984.3,-2.1],[1986,-2.18],[1987.4,-2.2],[1989,-2.28],[1990.5,-2.36],[1992.8,-2.4],[1994,-2.28],[1995.1,-2.15],[1996.5,-2.2],[1998.2,-2.15],[1999.5,-2.2],[2001.4,-2.15],[2003,-2.05],[2004.5,-1.89],[2006,-1.95],[2007.6,-1.89],[2009,-1.8],[2010.7,-1.73],[2011.5,-1.82],[2013,-1.63]];

// tick marks
var yearTicks = [1870,1880,1890,1900,1910,1920,1930,1940,1950,1960,1970,1980,1990,2000,2010,2020];
var yearLabels = [1890,1920,1950,1980,2010];
var amocTicks = [-4,-2,0,2];
var salTicks = [-0.15,-0.1,-0.05,0,0.05];
var weightTicks = [0,0.5,1];
var tnaTicks = [-1,-0.5,0,0.5];
var amoTicks = [-0.4,-0.2,0,0.2,0.4];
var aodTicks = [0,0.1,0.2];
var co2Ticks = [280,320,360,400];
var asrTicks = [-3,-2,-1,0];

// ---------- helpers ----------
function series(start, step, vals) {
  return vals.map(function (v, i) { return [start + i * step, v]; });
}
var weight = series(weightEarlyStart, 1, weightEarly).concat(series(weightLateStart, 0.5, weightLate));
var aodSeries = series(aodStart, 1, aod);

function line(g, yi, data, color, width, z) {
  return { type: 'line', xAxisIndex: g, yAxisIndex: yi, data: data, symbol: 'none', silent: true,
    clip: false, z: z, lineStyle: { color: color, width: width, join: 'round', cap: 'round' } };
}
function band(g, yi, rows, color) {
  return {
    type: 'custom', xAxisIndex: g, yAxisIndex: yi, silent: true, z: 1,
    data: [rows[0]], encode: { x: 0, y: 1 },
    renderItem: function (params, api) {
      if (params.dataIndex !== 0) return null;
      var top = rows.map(function (r) { return api.coord([r[0], r[2]]); });
      var bot = rows.map(function (r) { return api.coord([r[0], r[1]]); }).reverse();
      return { type: 'polygon', shape: { points: top.concat(bot) }, style: { fill: color } };
    }
  };
}
function yAx(g, pos, min, max, ticks, extra) {
  var ax = {
    type: 'value', gridIndex: g, position: pos, min: min, max: max,
    splitLine: { show: false },
    axisLine: { show: true, onZero: false, lineStyle: { color: '#000', width: 2 } },
    axisTick: { show: true, customValues: ticks, length: 6, lineStyle: { color: '#000', width: 1.5 } },
    axisLabel: { customValues: ticks, fontSize: 17, color: '#000', fontFamily: FONT, margin: 16 }
  };
  if (extra) {
    for (var k in extra) {
      if (k === 'axisLabel') Object.assign(ax.axisLabel, extra[k]);
      else ax[k] = extra[k];
    }
  }
  return ax;
}

var measureCtx = document.createElement('canvas').getContext('2d');
function textW(t, size, weight) {
  measureCtx.font = (weight || 'normal') + ' ' + size + 'px ' + FONT;
  return measureCtx.measureText(t).width;
}
// vertical (rotated) axis title made of pieces so subscripts can drop down
function vlabel(cx, cy, parts) {
  var total = 0;
  parts.forEach(function (p) { total += textW(p.t, p.size); });
  var x = -total / 2, kids = [];
  parts.forEach(function (p) {
    kids.push({ type: 'text', x: x, y: p.dy || 0,
      style: { text: p.t, fontSize: p.size, fontFamily: FONT, fill: p.color, align: 'left', verticalAlign: 'middle' } });
    x += textW(p.t, p.size);
  });
  return { type: 'group', x: cx, y: cy, rotation: Math.PI / 2, children: kids, z: 100 };
}
function txt(x, y, text, size, color, extra) {
  var st = { text: text, fontSize: size, fontFamily: FONT, fill: color, align: 'left', verticalAlign: 'middle' };
  if (extra) Object.assign(st, extra);
  return { type: 'text', x: x, y: y, style: st, z: 100 };
}

// ---------- colours ----------
var C = {
  amoc5: '#6a9be8', amoc6: '#10106e', rapid: '#1212ee', ecco: '#a020f0', amocLab: '#1c1c78',
  mag: '#ff22ff', red: '#ff0000',
  lime: '#2ef02e', fgreen: '#228b22', had: '#1c8a1c', amo: '#1ec8cf', tnaLab: '#22a022',
  aod: '#c2c2c2', co2: '#cc3a0a', asr: '#0a0aee'
};

var grids = [
  { left: 83, width: 407, top: 21, height: 152 },
  { left: 83, width: 407, top: 192, height: 151 },
  { left: 83, width: 407, top: 353, height: 152 },
  { left: 83, width: 407, top: 481, height: 51 },
  { left: 83, width: 407, top: 549, height: 150.5 },
  { left: 83, width: 407, top: 732, height: 99 }
];

var xAxes = grids.map(function (g, i) {
  var ax = { type: 'value', gridIndex: i, min: 1863.6, max: 2022.5, show: i === 5, splitLine: { show: false } };
  if (i === 5) {
    ax.axisLine = { onZero: false, lineStyle: { color: '#000', width: 2 } };
    ax.axisTick = { customValues: yearTicks, length: 5, lineStyle: { color: '#000', width: 1.5 } };
    ax.axisLabel = { customValues: yearLabels, fontSize: 19, color: '#000', fontFamily: FONT, margin: 11,
      formatter: function (v) { return String(v); } };
  }
  return ax;
});

var yAxes = [
  yAx(0, 'left', -4, 3.07, amocTicks, { offset: -3 }),
  yAx(1, 'right', -0.16, 0.07, salTicks, { axisLabel: { margin: 17 } }),
  yAx(2, 'right', -0.15, 0.07, salTicks, { axisLabel: { margin: 17 } }),
  yAx(3, 'left', 0, 1, weightTicks, { inverse: true, axisLabel: { margin: 16, formatter: function (v) { return v === 0 ? '0' : v.toFixed(1); } } }),
  yAx(4, 'left', -1, 0.8, tnaTicks, { offset: -3, axisLabel: { margin: 13, formatter: function (v) { return v === -1 ? '-1.0' : String(v); } } }),
  yAx(4, 'right', -0.4, 0.4, amoTicks, { axisLabel: { margin: 17 } }),
  yAx(5, 'left', 0, 0.2, aodTicks, { axisLabel: { margin: 10 } }),
  yAx(5, 'right', 280, 412.4, co2Ticks, { axisLabel: { margin: 18 } }),
  yAx(5, 'right', -3.07, 0, asrTicks, { inverse: true, offset: 79, axisLabel: { margin: 14, fontSize: 12 } })
];

var allSeries = [
  // a
  band(0, 0, bandAmocCmip6, 'rgba(190,190,225,0.30)'),
  band(0, 0, bandAmocCmip5, 'rgba(150,175,235,0.26)'),
  line(0, 0, amocCmip5, C.amoc5, 1.6, 3),
  line(0, 0, amocCmip6, C.amoc6, 1.6, 4),
  line(0, 0, amocEcco, C.ecco, 3.2, 5),
  line(0, 0, amocRapid, C.rapid, 3.2, 6),
  // b
  band(1, 1, bandSsCmip6, 'rgba(250,170,160,0.35)'),
  band(1, 1, bandSsCmip5, 'rgba(240,125,240,0.27)'),
  line(1, 1, ssCmip5, C.mag, 1.5, 3),
  line(1, 1, ssCmip6, C.red, 1.5, 4),
  line(1, 1, ssEn4, C.red, 3.4, 5),
  // c
  band(2, 2, bandSsaCmip6, 'rgba(250,170,160,0.35)'),
  band(2, 2, bandSsaCmip5, 'rgba(240,125,240,0.27)'),
  line(2, 2, ssaCmip5, C.mag, 1.5, 3),
  line(2, 2, ssaCmip6, C.red, 1.5, 4),
  line(2, 2, ssaEn4, C.red, 3.4, 5),
  // d
  line(3, 3, weight, '#000', 1, 3),
  // e
  band(4, 4, bandTnaCmip6, 'rgba(170,225,160,0.28)'),
  band(4, 4, bandTnaCmip5, 'rgba(150,235,140,0.30)'),
  line(4, 4, tnaCmip5, C.lime, 1.5, 3),
  line(4, 4, tnaCmip6, C.fgreen, 1.6, 4),
  line(4, 4, tnaHadisst, C.had, 3.4, 5),
  line(4, 5, amoIndex, C.amo, 3.4, 6),
  // f
  line(5, 6, aodSeries, C.aod, 2.6, 3),
  line(5, 8, asrNH, C.asr, 3.6, 4),
  Object.assign(line(5, 7, co2, C.co2, 3.6, 5), { smooth: 0.3 })
];

var graphics = [
  txt(93, 20, 'a', 18, '#000', { fontWeight: 'bold' }),
  txt(123, 20, '{c5|CMIP5} {c6|CMIP6} {r|RAPID} {e|ECCOv4}', 18, '#000', { rich: {
    c5: { fill: C.amoc5, fontSize: 18, fontFamily: FONT },
    c6: { fill: C.amoc6, fontSize: 18, fontFamily: FONT },
    r: { fill: C.rapid, fontSize: 18, fontFamily: FONT, fontWeight: 'bold' },
    e: { fill: C.ecco, fontSize: 18, fontFamily: FONT, fontWeight: 'bold' } } }),
  vlabel(28, 96, [{ t: 'AMOC ano.(Sv)', size: 20, color: C.amocLab }]),

  txt(93, 194, 'b', 18, '#000', { fontWeight: 'bold' }),
  txt(124, 322, '{m|CMIP5} {r|CMIP6} {e|EN4}', 18, '#000', { rich: {
    m: { fill: C.mag, fontSize: 18, fontFamily: FONT },
    r: { fill: C.red, fontSize: 18, fontFamily: FONT },
    e: { fill: C.red, fontSize: 18, fontFamily: FONT, fontWeight: 'bold' } } }),
  vlabel(568, 268, [{ t: 'S', size: 20, color: C.red }, { t: 'S', size: 12, color: C.red, dy: 5 }, { t: ' (psu)', size: 20, color: C.red }]),

  txt(93, 354, 'c', 18, '#000', { fontWeight: 'bold' }),
  vlabel(567, 428, [{ t: 'S', size: 20, color: C.red }, { t: 'SA', size: 12, color: C.red, dy: 5 }, { t: ' (psu)', size: 20, color: C.red }]),

  txt(92, 479, 'd', 18, '#000', { fontWeight: 'bold' }),
  vlabel(22, 505, [{ t: 'weight', size: 20, color: '#000' }]),

  txt(94, 550, 'e', 18, '#000', { fontWeight: 'bold' }),
  txt(124, 550, '{l|CMIP5} {g|CMIP6} {h|HadISST} {a|AMO}', 18, '#000', { rich: {
    l: { fill: C.lime, fontSize: 18, fontFamily: FONT },
    g: { fill: C.fgreen, fontSize: 18, fontFamily: FONT },
    h: { fill: C.had, fontSize: 18, fontFamily: FONT, fontWeight: 'bold' },
    a: { fill: C.amo, fontSize: 18, fontFamily: FONT, fontWeight: 'bold' } } }),
  vlabel(17, 624, [{ t: 'T', size: 20, color: C.tnaLab }, { t: 'NA', size: 12, color: C.tnaLab, dy: 5 }, { t: ' (K)', size: 20, color: C.tnaLab }]),
  vlabel(557, 624, [{ t: 'AMO (K)', size: 20, color: C.amo }]),

  txt(96, 733, 'f', 18, '#000', { fontWeight: 'bold' }),
  vlabel(27, 779, [{ t: 'Strat.AOD', size: 20, color: '#c8c8c8' }]),
  vlabel(540, 770, [{ t: 'CO', size: 13, color: C.co2 }, { t: '2', size: 9, color: C.co2, dy: 3 }, { t: '(ppm)', size: 13, color: C.co2 }]),
  vlabel(610, 771, [{ t: 'ASR_NH index(W/m', size: 11, color: C.asr }, { t: '2', size: 8, color: C.asr, dy: -4 }, { t: ')', size: 11, color: C.asr }]),

  txt(288, 888, 'Year', 20, '#000', { align: 'center' })
];

var chart = echarts.init(document.getElementById('main'), null, { renderer: 'canvas' });
chart.setOption({
  animation: false,
  backgroundColor: '#fff',
  textStyle: { fontFamily: FONT },
  grid: grids,
  xAxis: xAxes,
  yAxis: yAxes,
  series: allSeries,
  graphic: graphics
});
</script>
</body>
</html>
